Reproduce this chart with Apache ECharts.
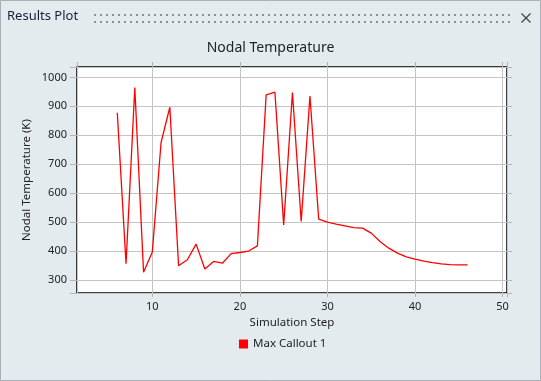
<!DOCTYPE html>
<html>
<head>
<meta charset="utf-8">
<script src="https://cdn.jsdelivr.net/npm/echarts@6/dist/echarts.min.js"></script>
<style>
html,body{margin:0;padding:0;background:#e4ebef;}
#c{width:541px;height:381px;}
</style>
</head>
<body>
<div id="c"></div>
<script>
const chartTitle = 'Nodal Temperature';
const windowTitle = 'Results Plot';
const xName = 'Simulation Step';
const yName = 'Nodal Temperature (K)';
const seriesName = 'Max Callout 1';
const steps = [6,7,8,9,10,11,12,13,14,15,16,17,18,19,20,21,22,23,24,25,26,27,28,29,30,31,32,33,34,35,36,37,38,39,40,41,42,43,44,45,46];
const temps = [878,356,965,327,397,775,897,349,370,424,338,364,358,391,395,400,418,940,949,490,948,502,936,510,500,493,487,481,479,462,433,410,393,380,372,365,360,356,353,352,352];

const chart = echarts.init(document.getElementById('c'), null, {renderer:'canvas'});
const FONT = 'Noto Sans';

const graphics = [];
graphics.push({type:'rect', shape:{x:0.5,y:0.5,width:540,height:380}, style:{fill:'none', stroke:'#a9b1b6', lineWidth:1}, silent:true});
graphics.push({type:'text', left:7, top:10, style:{text:windowTitle, font:'13px "' + FONT + '"', fill:'#1c1c3c'}});
for (let x = 94; x <= 508; x += 6) {
  graphics.push({type:'rect', shape:{x:x, y:14, width:2, height:2}, style:{fill:'#8a8f94'}, silent:true});
  graphics.push({type:'rect', shape:{x:x, y:21, width:2, height:2}, style:{fill:'#8a8f94'}, silent:true});
}
graphics.push({type:'line', shape:{x1:521.5,y1:13.5,x2:530.5,y2:22.5}, style:{stroke:'#444',lineWidth:1.2}});
graphics.push({type:'line', shape:{x1:530.5,y1:13.5,x2:521.5,y2:22.5}, style:{stroke:'#444',lineWidth:1.2}});

const tenOnly = v => (Math.abs(v % 10) < 1e-6 ? String(v) : '');
const hundredOnly = v => (Math.abs(v % 100) < 1e-6 ? String(v) : '');

chart.setOption({
  backgroundColor:'#e4ebef',
  animation:false,
  textStyle:{fontFamily:FONT},
  title:{text:chartTitle, left:'center', top:36, textStyle:{fontSize:14, fontWeight:'normal', color:'#222', fontFamily:FONT}},
  graphic:graphics,
  legend:{data:[{name:seriesName, icon:'rect'}], left:234, top:333, itemWidth:9, itemHeight:9,
    textStyle:{fontSize:11.5, color:'#222', fontFamily:FONT}},
  grid:{left:77, right:34, top:67, bottom:88, show:true, backgroundColor:'#fff', borderColor:'#000', borderWidth:1.5},
  xAxis:[{
    type:'value', min:1.4, max:50.5, splitNumber:5, position:'bottom',
    name:xName, nameLocation:'middle', nameGap:24, nameMoveOverlap:false,
    nameTextStyle:{fontSize:11.5, color:'#222', fontFamily:FONT},
    axisLine:{show:false},
    axisTick:{show:true, length:4, lineStyle:{color:'#b5b5b5'}},
    axisLabel:{formatter:tenOnly, fontSize:11, color:'#222', margin:8, showMinLabel:false, showMaxLabel:true},
    splitLine:{show:true, lineStyle:{color:'#c4c4c4', width:1}}
  },{
    type:'value', min:1.4, max:50.5, splitNumber:5, position:'top',
    axisLine:{show:false},
    axisTick:{show:true, length:5, lineStyle:{color:'#b5b5b5'}},
    axisLabel:{show:false}, splitLine:{show:false}
  }],
  yAxis:[{
    type:'value', min:255, max:1036, splitNumber:8, position:'left',
    name:yName, nameLocation:'middle', nameGap:44, nameRotate:90, nameMoveOverlap:false,
    nameTextStyle:{fontSize:11.5, color:'#222', fontFamily:FONT},
    axisLine:{show:false},
    axisTick:{show:true, length:7, lineStyle:{color:'#b5b5b5'}},
    axisLabel:{formatter:hundredOnly, fontSize:11, color:'#222', margin:10},
    splitLine:{show:true, lineStyle:{color:'#c4c4c4', width:1}}
  },{
    type:'value', min:255, max:1036, splitNumber:8, position:'right',
    axisLine:{show:false},
    axisTick:{show:true, length:5, lineStyle:{color:'#b5b5b5'}},
    axisLabel:{show:false}, splitLine:{show:false}
  }],
  series:[{
    name:seriesName, type:'line', showSymbol:false, symbol:'none',
    data:steps.map((s,i)=>[s,temps[i]]),
    itemStyle:{color:'#ff0000'},
    lineStyle:{color:'#ff0000', width:1.3}
  }]
});
</script>
</body>
</html>
